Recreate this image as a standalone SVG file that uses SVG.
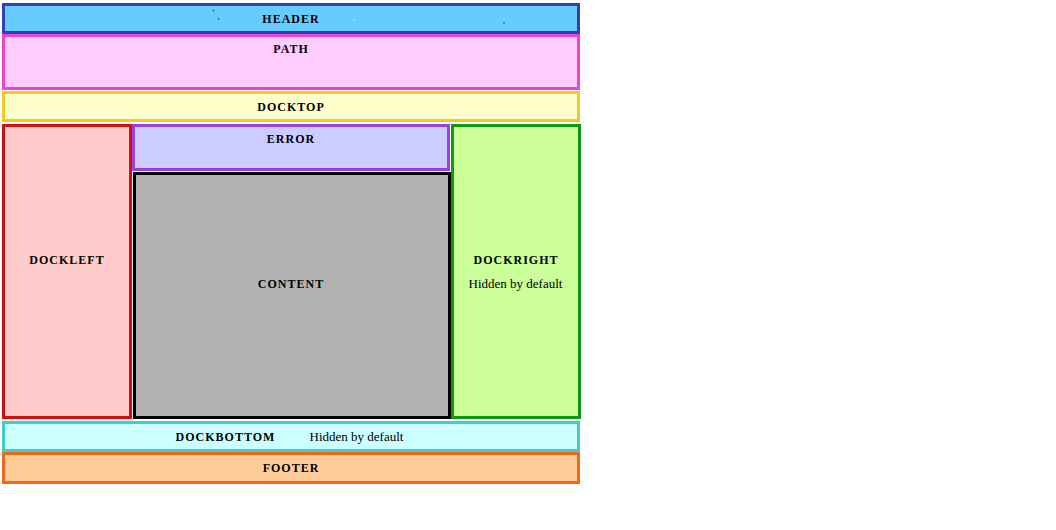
<svg xmlns="http://www.w3.org/2000/svg" width="1056" height="530" viewBox="0 0 1056 530">
<style>
rect.box{stroke-width:3}
text{font-family:"Liberation Serif","Times New Roman",serif;text-anchor:middle;fill:#000}
text.t{font-size:12px;font-weight:bold;letter-spacing:1px}
text.n{font-size:13px}
</style>
<rect x="0" y="0" width="1056" height="530" fill="#fff"/>
<g id="header">
<rect class="box" x="3.5" y="4.5" width="575" height="28" fill="#66ccff" stroke="#3340bb"/>
<circle cx="213.5" cy="10.5" r="0.8" fill="#223366"/>
<circle cx="218.5" cy="19" r="0.8" fill="#223366"/>
<circle cx="354" cy="20" r="0.8" fill="#ddf4ff"/>
<circle cx="504" cy="23" r="0.8" fill="#223366"/>
<text class="t" x="291" y="22.5">HEADER</text>
</g>
<g id="path">
<rect class="box" x="3.5" y="35.5" width="575" height="53" fill="#ffccff" stroke="#ee44cc"/>
<text class="t" x="291" y="53">PATH</text>
</g>
<g id="docktop">
<rect class="box" x="3.5" y="92.5" width="575" height="28" fill="#ffffcc" stroke="#f5c828"/>
<text class="t" x="291" y="110.5">DOCKTOP</text>
</g>
<g id="dockleft">
<rect class="box" x="3.5" y="125.5" width="127" height="292" fill="#ffcccc" stroke="#cc1111"/>
<text class="t" x="67" y="263.5">DOCKLEFT</text>
</g>
<g id="error">
<rect class="box" x="133.5" y="125.5" width="315" height="44" fill="#ccccff" stroke="#9940e0"/>
<text class="t" x="291" y="142.5">ERROR</text>
</g>
<g id="content">
<rect class="box" x="134.5" y="173.5" width="315" height="244" fill="#b3b3b3" stroke="#000"/>
<text class="t" x="291" y="287.5">CONTENT</text>
</g>
<g id="dockright">
<rect class="box" x="452.5" y="125.5" width="127" height="292" fill="#ccff99" stroke="#119911"/>
<text class="t" x="516" y="263.5">DOCKRIGHT</text>
<text class="n" x="515.5" y="288">Hidden by default</text>
</g>
<g id="dockbottom">
<rect class="box" x="3.5" y="422.5" width="575" height="28" fill="#ccffff" stroke="#44cccc"/>
<text class="t" x="225.5" y="440.5">DOCKBOTTOM</text>
<text class="n" x="356.5" y="441">Hidden by default</text>
</g>
<g id="footer">
<rect class="box" x="3.5" y="453.5" width="575" height="29" fill="#ffcc99" stroke="#ee6a1a"/>
<text class="t" x="291" y="471.5">FOOTER</text>
</g>
<g id="connectors"></g>
</svg>
